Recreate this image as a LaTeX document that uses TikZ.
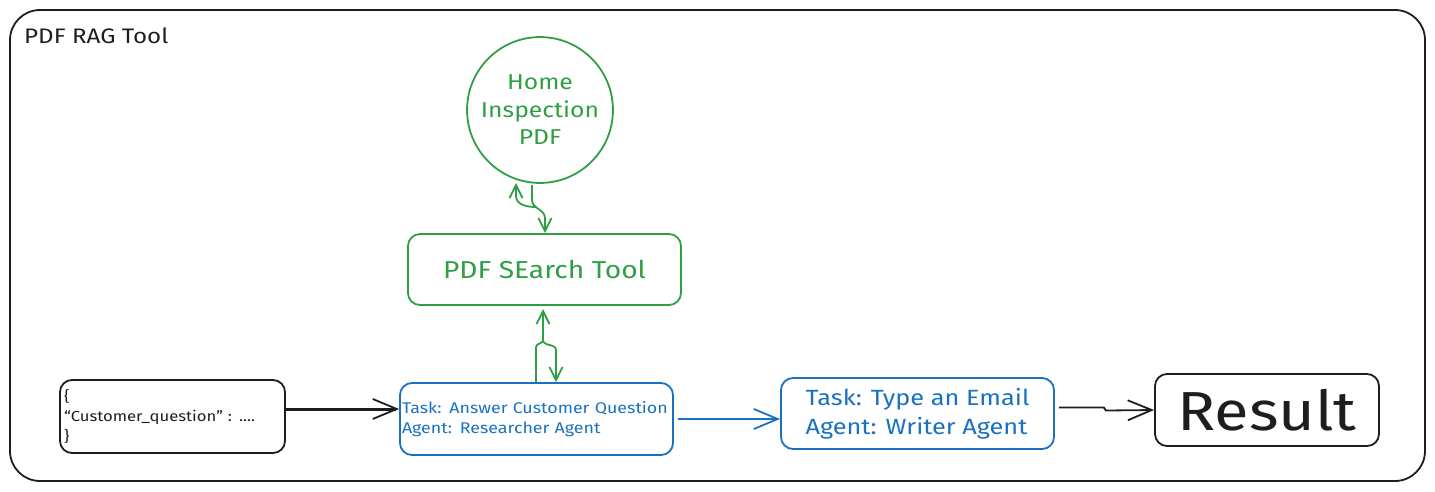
\documentclass[tikz,border=0pt]{standalone}
\usepackage{fontspec}
\setmainfont{Fira Sans}[FakeStretch=1.15]
\usetikzlibrary{arrows.meta}
\definecolor{exgreen}{HTML}{2F9E44}
\definecolor{exblue}{HTML}{1971C2}
\definecolor{exblack}{HTML}{1E1E1E}
\tikzset{
  x=1pt,y=-1pt,
  boxstyle/.style={draw, line width=1.8pt, rounded corners=12pt, inner sep=4pt},
  greenbox/.style={boxstyle, draw=exgreen, text=exgreen},
  bluebox/.style={boxstyle, draw=exblue, text=exblue},
  blackbox/.style={boxstyle, draw=exblack, text=exblack},
  bigtip/.style={-{Straight Barb[length=24pt,width=20pt,line width=1.8pt]}},
  smalltip/.style={-{Straight Barb[length=13pt,width=13pt,line width=1.8pt]}},
  conn/.style={line width=1.8pt},
}
\begin{document}
\begin{tikzpicture}
\useasboundingbox (0,0) rectangle (1435,491);
% frame
\node[draw=exblack, line width=1.8pt, rounded corners=30pt, minimum width=1415pt, minimum height=471pt] (frame) at (717.5,245.5) {};
\node[anchor=west, text=exblack, font=\fontsize{21}{24}\selectfont, inner sep=0pt] (title) at (24,36) {PDF RAG Tool};

% nodes
\node[draw=exgreen, line width=1.8pt, circle, minimum size=144pt, text=exgreen, align=center, font=\fontsize{21.5}{27.5}\selectfont] (pdf) at (540,110) {Home\\Inspection\\PDF};
\node[greenbox, minimum width=273pt, minimum height=71pt, font=\fontsize{24.5}{28}\selectfont] (search) at (544.5,269.5) {PDF SEarch Tool};
\node[blackbox, minimum width=225pt, minimum height=73pt, text width=217pt, inner sep=2pt, align=left, font=\fontsize{14.5}{20}\selectfont] (input) at (172.5,416.5) {\{\\``Customer\_question'' : ....\\\}};
\node[bluebox, minimum width=273pt, minimum height=72pt, text width=269pt, inner sep=2pt, align=left, font=\fontsize{15.5}{20}\selectfont] (task1) at (536.5,419) {Task: Answer Customer Question\\Agent: Researcher Agent};
\node[bluebox, minimum width=273pt, minimum height=71pt, align=left, font=\fontsize{22}{29}\selectfont] (task2) at (917.5,413.5) {Task: Type an Email\\Agent: Writer Agent};
\node[blackbox, minimum width=224pt, minimum height=72pt, font=\fontsize{55}{60}\selectfont] (result) at (1267,410) {Result};

% circle <-> search
\coordinate (c1) at (532,185);
\coordinate (c2) at (536,207);
\draw[conn, draw=exgreen, smalltip] (c1) -- (532,200) to[out=-90,in=90] (545,218) -- (search.north -| 545,0);
\draw[conn, draw=exgreen, smalltip] (c2) to[out=180,in=-90] (516,196) -- (516,183);

% search <-> task1
\coordinate (m) at (543,340);
\draw[conn, draw=exgreen, smalltip] (task1.north -| 536,0) -- (536,347) to[out=90,in=-90] (m) -- (543,309);
\draw[conn, draw=exgreen, smalltip] (m) to[out=-90,in=90] (556,350) -- (task1.north -| 556,0);

% horizontal connectors
\draw[line width=3pt, draw=exblack, -{Straight Barb[length=24pt,width=20pt,line width=1.8pt]}] ([yshift=7.5pt]input.east) -- ([yshift=10pt]task1.west);
\draw[conn, draw=exblue, bigtip] ([xshift=4pt]task1.east) -- (task2.west |- task1.east);
\draw[conn, draw=exblack, bigtip] ([xshift=4pt,yshift=6pt]task2.east) -- ++(45,0) -- ++(2,3) -- (result.west);
\end{tikzpicture}
\end{document}
